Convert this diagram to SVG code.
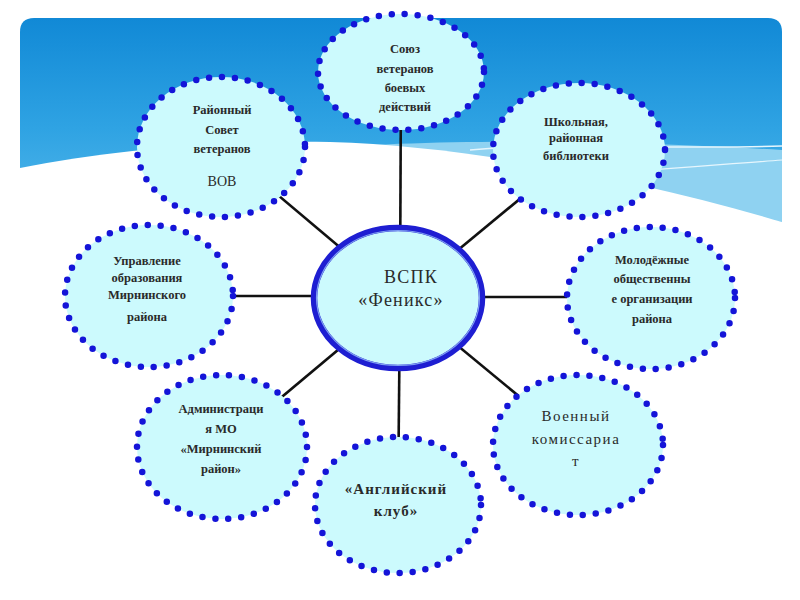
<svg xmlns="http://www.w3.org/2000/svg" width="800" height="600" viewBox="0 0 800 600">
<defs>
<linearGradient id="sky" x1="0" y1="0" x2="0" y2="1">
<stop offset="0" stop-color="#1189d6"/>
<stop offset="0.5" stop-color="#2fa3e3"/>
<stop offset="1" stop-color="#5cbcec"/>
</linearGradient>
<style>
.node ellipse.b{fill:#ccfafd;stroke:#1414d8;stroke-width:6.5;stroke-linecap:round;stroke-dasharray:0 13}
.t{font-family:"Liberation Serif","DejaVu Serif",serif;font-weight:bold;font-size:12.5px;fill:#2a2a2a;text-anchor:middle}
.r{font-weight:normal;font-size:15px;letter-spacing:1.5px}
.m{font-size:15px;letter-spacing:1px}
.c{font-family:"Liberation Serif","DejaVu Serif",serif;font-size:18px;fill:#2a2a2a;text-anchor:middle;letter-spacing:1.2px}
#connectors line{stroke:#111;stroke-width:2.6}
</style>
</defs>
<rect width="800" height="600" fill="#ffffff"/>
<g id="background">
<path d="M20,32 Q20,18 34,18 L768,18 Q782,18 782,32 L782,240 L20,240 Z" fill="url(#sky)"/>
<path d="M300,150 C430,138 620,140 782,150 L782,222 C650,196 470,172 300,160 Z" fill="#8fd2f1"/>
<path d="M20,168 C110,150 220,140 330,142 C470,146 640,180 782,222 L782,245 L20,245 Z" fill="#ffffff"/>
<path d="M470,150 C560,142 680,150 782,146" fill="none" stroke="#e6f6fd" stroke-width="1.5"/>
<path d="M560,178 C640,170 720,165 782,160" fill="none" stroke="#e6f6fd" stroke-width="1.2"/>
</g>
<g id="connectors">
<line x1="400" y1="298" x2="401" y2="72"/>
<line x1="400" y1="298" x2="221" y2="147"/>
<line x1="400" y1="298" x2="579" y2="150"/>
<line x1="400" y1="296" x2="149" y2="296"/>
<line x1="400" y1="297" x2="651" y2="297"/>
<line x1="400" y1="298" x2="222" y2="447"/>
<line x1="400" y1="298" x2="578" y2="445"/>
<line x1="400" y1="298" x2="398" y2="505"/>
</g>
<g id="n-center">
<ellipse cx="398" cy="298" rx="84" ry="70" fill="#ccfafd" stroke="#1e1ed2" stroke-width="6.5"/>
<ellipse cx="398" cy="298" rx="81.5" ry="67.5" fill="none" stroke="#7f9ef2" stroke-width="1.2"/>
<text class="c" x="411" y="283">ВСПК</text>
<text class="c" x="401" y="306">«Феникс»</text>
</g>
<g id="n-soyuz" class="node">
<ellipse class="b" cx="401" cy="72" rx="83" ry="58"/>
<text class="t" x="405" y="53">Союз</text>
<text class="t" x="405" y="73">ветеранов</text>
<text class="t" x="405" y="92">боевых</text>
<text class="t" x="405" y="111">действий</text>
</g>
<g id="n-rayonny" class="node">
<ellipse class="b" cx="221" cy="147" rx="84" ry="70"/>
<text class="t" x="222" y="114">Районный</text>
<text class="t" x="222" y="134">Совет</text>
<text class="t" x="222" y="153">ветеранов</text>
<text class="t" x="222" y="186" style="font-weight:normal;font-size:14px">ВОВ</text>
</g>
<g id="n-biblioteki" class="node">
<ellipse class="b" cx="579" cy="150" rx="86" ry="67"/>
<text class="t" x="576" y="126">Школьная,</text>
<text class="t" x="576" y="142">районная</text>
<text class="t" x="576" y="160">библиотеки</text>
</g>
<g id="n-upravlenie" class="node">
<ellipse class="b" cx="149" cy="296" rx="84" ry="71"/>
<text class="t" x="147" y="265">Управление</text>
<text class="t" x="147" y="282">образования</text>
<text class="t" x="147" y="299">Мирнинского</text>
<text class="t" x="147" y="321">района</text>
</g>
<g id="n-molodezh" class="node">
<ellipse class="b" cx="651" cy="298" rx="84" ry="71"/>
<text class="t" x="652" y="264">Молодёжные</text>
<text class="t" x="652" y="283">общественны</text>
<text class="t" x="652" y="303">е организации</text>
<text class="t" x="652" y="323">района</text>
</g>
<g id="n-admin" class="node">
<ellipse class="b" cx="222" cy="447" rx="85" ry="72"/>
<text class="t" x="221" y="413">Администраци</text>
<text class="t" x="221" y="433">я МО</text>
<text class="t" x="221" y="453">«Мирнинский</text>
<text class="t" x="221" y="473">район»</text>
</g>
<g id="n-voenkom" class="node">
<ellipse class="b" cx="578" cy="445" rx="85" ry="70"/>
<text class="t r" x="576" y="421">Военный</text>
<text class="t r" x="576" y="444">комиссариа</text>
<text class="t r" x="576" y="466">т</text>
</g>
<g id="n-klub" class="node">
<ellipse class="b" cx="398" cy="505" rx="83" ry="68"/>
<text class="t m" x="396" y="494">«Английский</text>
<text class="t m" x="396" y="516">клуб»</text>
</g>
</svg>
